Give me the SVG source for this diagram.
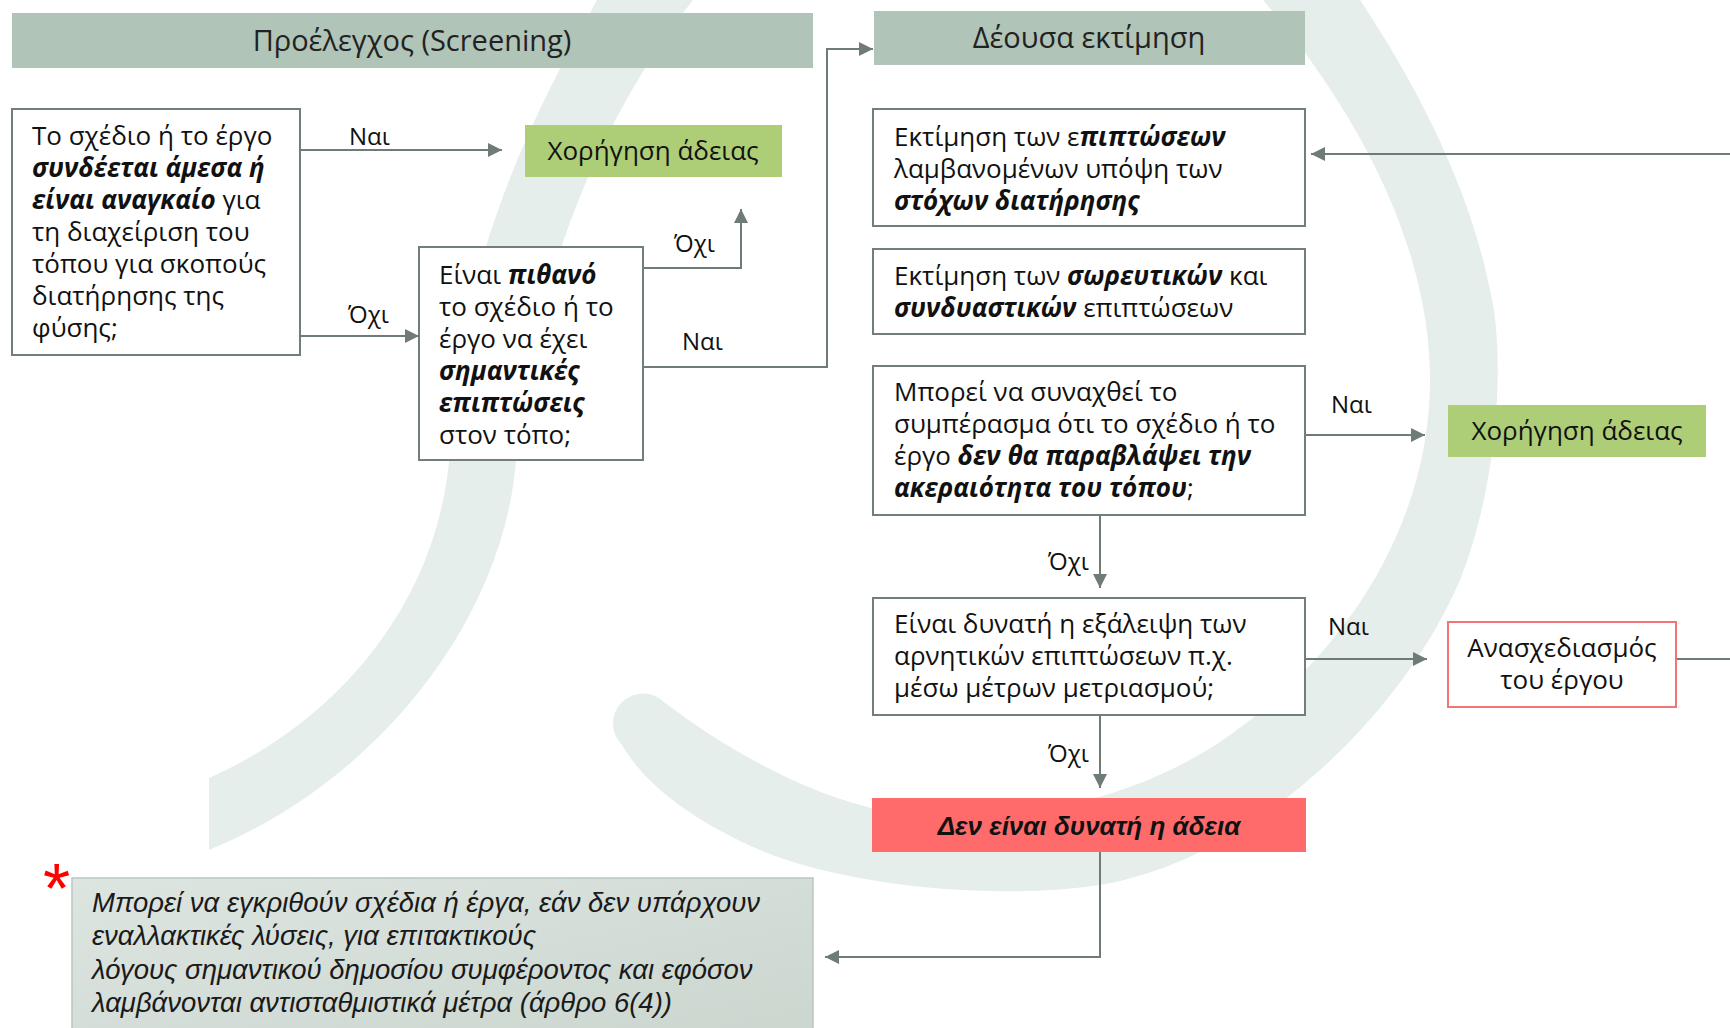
<svg xmlns="http://www.w3.org/2000/svg" width="1730" height="1028" viewBox="0 0 1730 1028">
<defs>
<marker id="arr" viewBox="0 0 10 10" refX="10" refY="5" markerWidth="7" markerHeight="7" markerUnits="strokeWidth" orient="auto">
<path d="M0,0 L10,5 L0,10 Z" fill="#6f7b77"/>
</marker>
<linearGradient id="fg" x1="0" y1="0" x2="1" y2="1">
<stop offset="0" stop-color="#dde5e0"/>
<stop offset="1" stop-color="#cbd6cf"/>
</linearGradient>
</defs>
<style>
.wm{fill:#e6eeec}
.hdr{fill:#b0c4b8}
.box{fill:#ffffff;stroke:#717e79;stroke-width:2}
.grn{fill:#aecd77}
.t{font-family:"Open Sans","Noto Sans",sans-serif;font-size:26px;fill:#111}
.g{font-size:26px}
.bi{font-weight:700;font-style:italic}
.c{text-anchor:middle}
.h{font-family:"Open Sans","Noto Sans",sans-serif;font-size:29px;fill:#222;text-anchor:middle}
.lbl{font-family:"Open Sans","Noto Sans",sans-serif;font-size:24px;fill:#111}
.con{fill:none;stroke:#6f7b77;stroke-width:2}
.fn{font-family:"Liberation Sans",Arial,sans-serif;font-style:italic;font-size:27.5px;fill:#1a1a1a}
</style>
<rect width="1730" height="1028" fill="#ffffff"/>
<g id="watermark">
<path class="wm" d="M597,0 C530,120 460,260 450,450 C440,600 340,720 209,778 L209,850 C380,780 500,620 515,470 C530,300 590,130 693,0 Z"/>
<path class="wm" d="M1263,0 C1340,90 1430,230 1430,380 C1430,520 1350,650 1230,735 C1110,820 950,830 860,805 C790,785 720,745 664,702 A30,30 0 0 0 622,745 C645,785 695,822 760,850 C850,888 1000,900 1100,885 C1250,860 1400,720 1460,580 C1500,480 1505,350 1490,290 C1470,190 1420,90 1360,0 Z"/>
</g>
<g id="header-screening">
<rect class="hdr" x="12" y="13" width="801" height="55"/>
<text class="h" x="412" y="51">Προέλεγχος (Screening)</text>
</g>
<g id="header-assessment">
<rect class="hdr" x="874" y="11" width="431" height="54"/>
<text class="h" x="1089" y="48">Δέουσα εκτίμηση</text>
</g>
<g id="connectors">
<path class="con" d="M300,150 H502" marker-end="url(#arr)"/>
<path class="con" d="M300,336 H419" marker-end="url(#arr)"/>
<path class="con" d="M643,268 H741 V209" marker-end="url(#arr)"/>
<path class="con" d="M643,367 H827 V49 H873" marker-end="url(#arr)"/>
<path class="con" d="M1730,154 H1311" marker-end="url(#arr)"/>
<path class="con" d="M1305,435 H1425" marker-end="url(#arr)"/>
<path class="con" d="M1100,515 V588" marker-end="url(#arr)"/>
<path class="con" d="M1305,659 H1427" marker-end="url(#arr)"/>
<path class="con" d="M1676,659 H1730"/>
<path class="con" d="M1100,715 V788" marker-end="url(#arr)"/>
<path class="con" d="M1100,852 V957 H825" marker-end="url(#arr)"/>
<text class="lbl" x="349" y="145">Ναι</text>
<text class="lbl" x="348" y="323">Όχι</text>
<text class="lbl" x="674" y="252">Όχι</text>
<text class="lbl" x="682" y="350">Ναι</text>
<text class="lbl" x="1331" y="413">Ναι</text>
<text class="lbl" x="1048" y="570">Όχι</text>
<text class="lbl" x="1328" y="635">Ναι</text>
<text class="lbl" x="1048" y="762">Όχι</text>
</g>
<g id="q-directly-connected">
<rect class="box" x="12" y="109" width="288" height="246"/>
<text class="t" x="32" y="145">Το σχέδιο ή το έργο</text>
<text class="t bi" x="32" y="177">συνδέεται άμεσα ή</text>
<text class="t" x="32" y="209"><tspan class="bi">είναι αναγκαίο</tspan> για</text>
<text class="t" x="32" y="241">τη διαχείριση του</text>
<text class="t" x="32" y="273">τόπου για σκοπούς</text>
<text class="t" x="32" y="305">διατήρησης της</text>
<text class="t" x="32" y="337">φύσης;</text>
</g>
<g id="grant-1">
<rect class="grn" x="525" y="125" width="257" height="52"/>
<text class="t c" x="653" y="160">Χορήγηση άδειας</text>
</g>
<g id="q-significant-effects">
<rect class="box" x="419" y="247" width="224" height="213"/>
<text class="t" x="439" y="284">Είναι <tspan class="bi">πιθανό</tspan></text>
<text class="t" x="439" y="316">το σχέδιο ή το</text>
<text class="t" x="439" y="348">έργο να έχει</text>
<text class="t bi" x="439" y="380">σημαντικές</text>
<text class="t bi" x="439" y="412">επιπτώσεις</text>
<text class="t" x="439" y="444">στον τόπο;</text>
</g>
<g id="assess-effects">
<rect class="box" x="873" y="109" width="432" height="117"/>
<text class="t" x="894" y="146">Εκτίμηση των ε<tspan class="bi">πιπτώσεων</tspan></text>
<text class="t" x="894" y="178">λαμβανομένων υπόψη των</text>
<text class="t bi" x="894" y="210">στόχων διατήρησης</text>
</g>
<g id="assess-cumulative">
<rect class="box" x="873" y="249" width="432" height="85"/>
<text class="t" x="894" y="285">Εκτίμηση των <tspan class="bi">σωρευτικών</tspan> και</text>
<text class="t" x="894" y="317"><tspan class="bi">συνδυαστικών</tspan> επιπτώσεων</text>
</g>
<g id="q-integrity">
<rect class="box" x="873" y="366" width="432" height="149"/>
<text class="t" x="894" y="401">Μπορεί να συναχθεί το</text>
<text class="t" x="894" y="433">συμπέρασμα ότι το σχέδιο ή το</text>
<text class="t" x="894" y="465">έργο <tspan class="bi">δεν θα παραβλάψει την</tspan></text>
<text class="t" x="894" y="497"><tspan class="bi">ακεραιότητα του τόπου</tspan>;</text>
</g>
<g id="grant-2">
<rect class="grn" x="1448" y="405" width="258" height="52"/>
<text class="t c" x="1577" y="440">Χορήγηση άδειας</text>
</g>
<g id="q-mitigation">
<rect class="box" x="873" y="598" width="432" height="117"/>
<text class="t" x="894" y="633">Είναι δυνατή η εξάλειψη των</text>
<text class="t" x="894" y="665">αρνητικών επιπτώσεων π.χ.</text>
<text class="t" x="894" y="697">μέσω μέτρων μετριασμού;</text>
</g>
<g id="redesign">
<rect x="1448" y="622" width="228" height="85" fill="#ffffff" stroke="#f47474" stroke-width="2"/>
<text class="t c" x="1562" y="657">Ανασχεδιασμός</text>
<text class="t c" x="1562" y="689">του έργου</text>
</g>
<g id="no-permit">
<rect x="872" y="798" width="434" height="54" fill="#ff6b6b"/>
<text x="1089" y="835" text-anchor="middle" font-family="Liberation Sans, Arial, sans-serif" font-size="26" font-weight="700" font-style="italic" fill="#111">Δεν είναι δυνατή η άδεια</text>
</g>
<g id="footnote">
<rect x="72" y="878" width="741" height="160" fill="url(#fg)" stroke="#bac6bf" stroke-width="1.5"/>
<text x="43" y="913" font-family="Liberation Sans, Arial, sans-serif" font-size="70" fill="#ff0000">*</text>
<text class="fn" x="92" y="912">Μπορεί να εγκριθούν σχέδια ή έργα, εάν δεν υπάρχουν</text>
<text class="fn" x="92" y="945">εναλλακτικές λύσεις, για επιτακτικούς</text>
<text class="fn" x="92" y="979">λόγους σημαντικού δημοσίου συμφέροντος και εφόσον</text>
<text class="fn" x="92" y="1012">λαμβάνονται αντισταθμιστικά μέτρα (άρθρο 6(4))</text>
</g>
</svg>
